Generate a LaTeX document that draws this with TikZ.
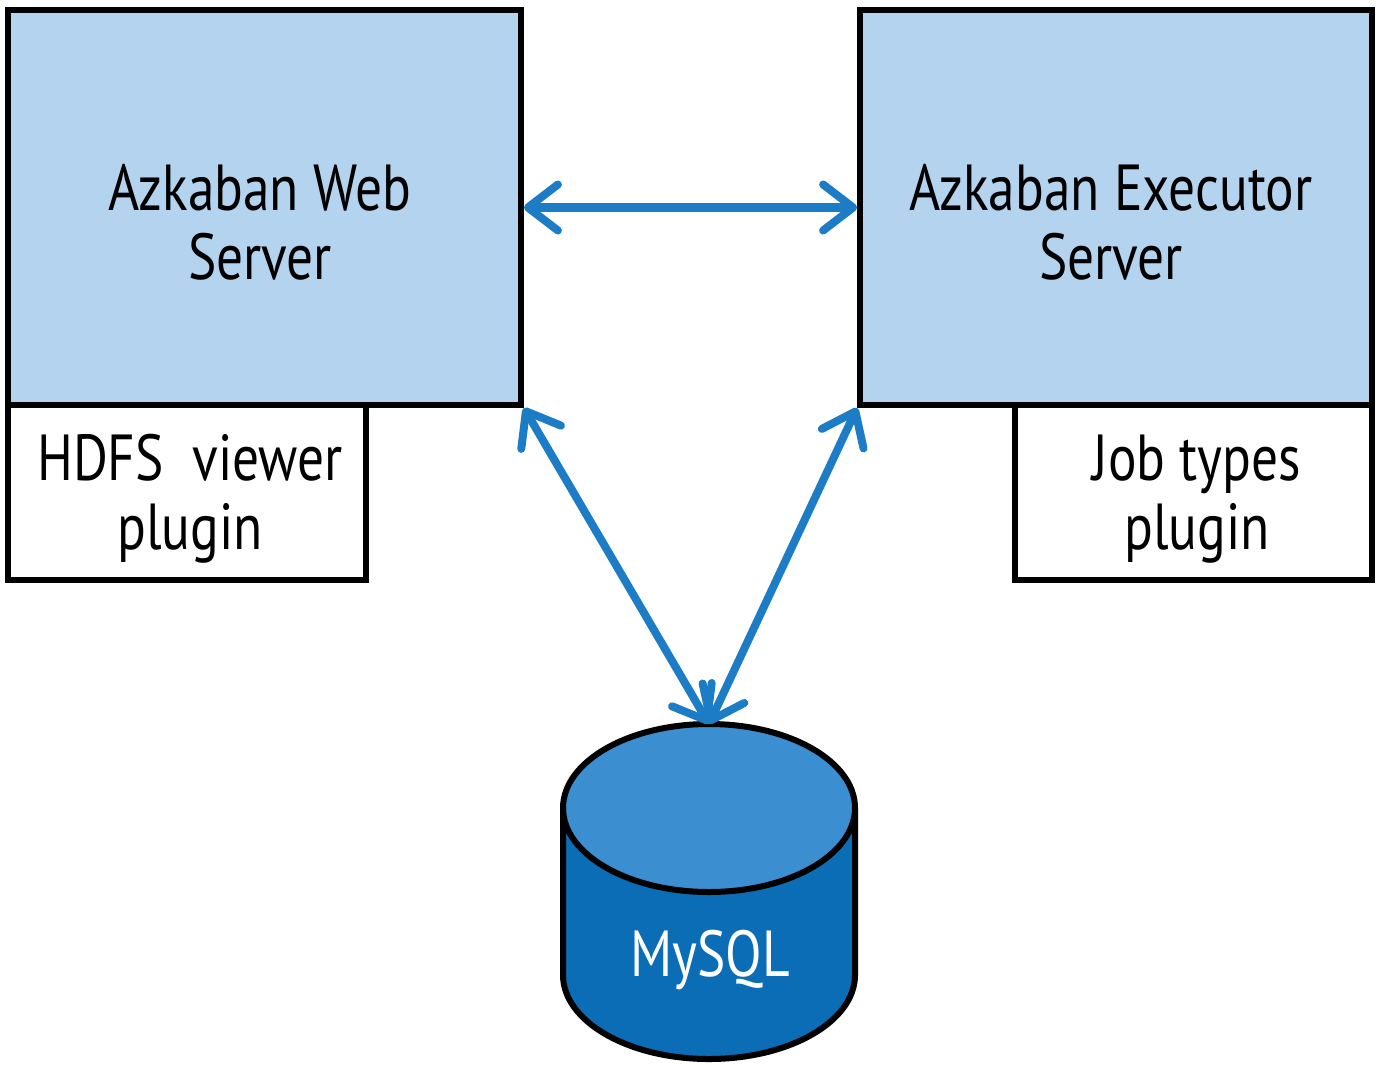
\documentclass[tikz,border=0pt]{standalone}
\usepackage{fontspec}
\setmainfont{PT Sans}[FakeStretch=0.82]
\usetikzlibrary{arrows.meta}
\definecolor{boxblue}{HTML}{B4D3EF}
\definecolor{arrblue}{HTML}{1C7CC6}
\definecolor{dbbody}{HTML}{0B6DB5}
\definecolor{dbtopc}{HTML}{3B8ED0}
\tikzset{
  srvbox/.style={draw=black, line width=0.055cm, fill=boxblue, inner sep=0pt, minimum width=5.13cm, minimum height=3.95cm},
  plugbox/.style={draw=black, line width=0.055cm, fill=white, inner sep=0pt, minimum height=1.75cm},
  lbl/.style={align=center, font=\fontsize{18.5}{19.5}\selectfont, inner sep=0pt},
  conn/.style={draw=arrblue, line width=0.08cm, line cap=round, {Straight Barb[length=3mm,width=4.6mm,line cap=round,line join=round]}-{Straight Barb[length=3mm,width=4.6mm,line cap=round,line join=round]}},
}
\begin{document}
\begin{tikzpicture}[x=0.01cm,y=-0.01cm]
\useasboundingbox (0,0) rectangle (1380,1064);
% boxes
\node[plugbox, minimum width=3.58cm] (hdfs) at (187,492.5) {};
\node[plugbox, minimum width=3.57cm] (job) at (1193.5,492.5) {};
\node[srvbox] (web) at (264.5,207.5) {};
\node[srvbox, minimum width=5.12cm] (exec) at (1116,207.5) {};
% texts
\node[lbl] (webt) at (260,222) {Azkaban Web\\Server};
\node[lbl] (exect) at (1111,222) {Azkaban Executor\\Server};
\node[lbl] (hdfst) at (190,499) {HDFS\ \ viewer\\plugin};
\node[lbl] (jobt) at (1197,499) {Job types\\plugin};
% cylinder
\coordinate (dbtop) at (709,724);
\fill[dbbody] (563,808) -- (563,975) arc[start angle=180,end angle=0,x radius=146,y radius=84] -- (855,808) -- cycle;
\fill[dbtopc] (709,808) ellipse[x radius=146,y radius=84];
\draw[black, line width=0.06cm] (563,808) -- (563,975) arc[start angle=180,end angle=0,x radius=146,y radius=84] -- (855,808);
\draw[black, line width=0.06cm] (709,808) ellipse[x radius=146,y radius=84];
\node[lbl, text=white] (db) at (710,960) {MySQL};
% connectors
\draw[conn] (web.east) -- (exec.west);
\draw[conn] (web.south east) -- (dbtop);
\draw[conn] (exec.south west) -- (dbtop);
\end{tikzpicture}
\end{document}
